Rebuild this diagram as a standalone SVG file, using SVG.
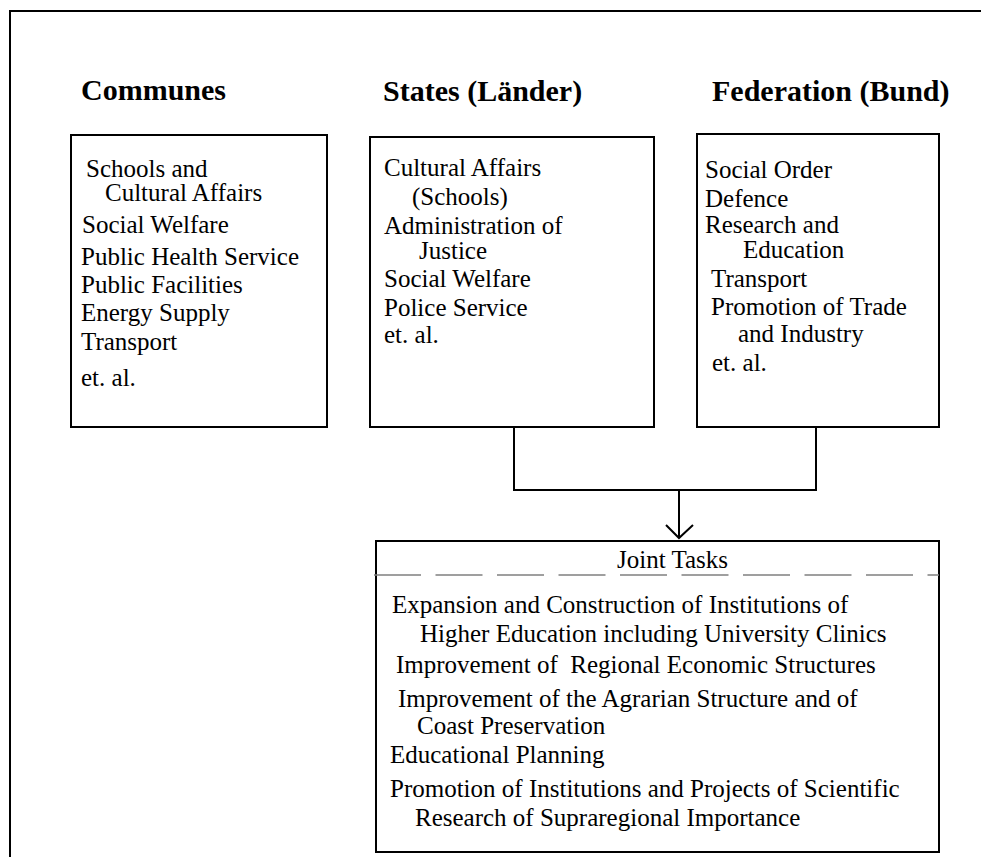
<svg xmlns="http://www.w3.org/2000/svg" width="981" height="857" viewBox="0 0 981 857">
<style>
.box{fill:#fff;stroke:#000;stroke-width:2}
.ln{fill:none;stroke:#000;stroke-width:2}
.t{font-family:"Liberation Serif","Times New Roman",serif;font-size:25px;fill:#000}
.h{font-family:"Liberation Serif","Times New Roman",serif;font-size:30px;font-weight:bold;fill:#000}
.dash{stroke:#808080;stroke-width:1.5;stroke-dasharray:47 14.5}
</style>
<rect width="981" height="857" fill="#fff"/>
<g id="frame">
<path class="ln" d="M10 857 V11 H981"/>
</g>
<g id="headings">
<text class="h" x="81" y="100">Communes</text>
<text class="h" x="383" y="101">States (Länder)</text>
<text class="h" x="712" y="101">Federation (Bund)</text>
</g>
<g id="communes">
<rect class="box" x="71" y="135" width="256" height="292"/>
<text class="t" x="86" y="177">Schools and</text>
<text class="t" x="105" y="201">Cultural Affairs</text>
<text class="t" x="82" y="233">Social Welfare</text>
<text class="t" x="81" y="265">Public Health Service</text>
<text class="t" x="81" y="293">Public Facilities</text>
<text class="t" x="81" y="321">Energy Supply</text>
<text class="t" x="81" y="350">Transport</text>
<text class="t" x="81" y="386">et. al.</text>
</g>
<g id="states">
<rect class="box" x="370" y="137" width="284" height="290"/>
<text class="t" x="384" y="176">Cultural Affairs</text>
<text class="t" x="412" y="205">(Schools)</text>
<text class="t" x="384" y="234">Administration of</text>
<text class="t" x="419" y="259">Justice</text>
<text class="t" x="384" y="287">Social Welfare</text>
<text class="t" x="384" y="316">Police Service</text>
<text class="t" x="384" y="343">et. al.</text>
</g>
<g id="federation">
<rect class="box" x="697" y="134" width="242" height="293"/>
<text class="t" x="705" y="178">Social Order</text>
<text class="t" x="705" y="207">Defence</text>
<text class="t" x="705" y="233">Research and</text>
<text class="t" x="743" y="258">Education</text>
<text class="t" x="711" y="287">Transport</text>
<text class="t" x="711" y="315">Promotion of Trade</text>
<text class="t" x="738" y="342">and Industry</text>
<text class="t" x="712" y="371">et. al.</text>
</g>
<g id="connectors">
<path class="ln" d="M514 427 V490 H816 V427"/>
<path class="ln" d="M679 490 V538"/>
<path class="ln" d="M666 525 L679 538 L693 525"/>
</g>
<g id="joint-tasks">
<rect class="box" x="376" y="541" width="563" height="311"/>
<line class="dash" x1="374" y1="575" x2="939" y2="575"/>
<text class="t" x="617" y="568">Joint Tasks</text>
<text class="t" x="392" y="613">Expansion and Construction of Institutions of</text>
<text class="t" x="420" y="642">Higher Education including University Clinics</text>
<text class="t" x="396" y="673" xml:space="preserve">Improvement of  Regional Economic Structures</text>
<text class="t" x="398" y="707">Improvement of the Agrarian Structure and of</text>
<text class="t" x="417" y="734">Coast Preservation</text>
<text class="t" x="390" y="763">Educational Planning</text>
<text class="t" x="390" y="797">Promotion of Institutions and Projects of Scientific</text>
<text class="t" x="415" y="826">Research of Supraregional Importance</text>
</g>
</svg>
